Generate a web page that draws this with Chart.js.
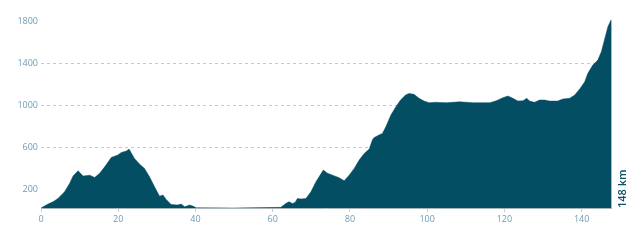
<!DOCTYPE html>
<html>
<head>
<meta charset="utf-8">
<script src="https://cdn.jsdelivr.net/npm/chart.js@4/dist/chart.umd.min.js"></script>
<style>
  html, body { margin: 0; padding: 0; background: #ffffff; }
  #wrap { width: 640px; height: 240px; position: relative; }
</style>
</head>
<body>
<div id="wrap"><canvas id="profile"></canvas></div>
<script>
// Distance along the route (km) and elevation (m)
const distanceKm = [0, 1.8, 3.1, 4.4, 6.1, 7.4, 8.3, 9.6, 10.9, 12.6, 13.9, 15.2, 16.5, 18.2, 19.9, 20.8, 22.1, 22.8, 24.2, 25.5,
  26.8, 28.1, 29.4, 30.7, 31.6, 32.4, 33.7, 35.4, 36.3, 37.2, 38.5, 39.3, 40.2, 50, 62.1, 63.4, 64.2, 65.1, 65.8, 66.4,
  67.3, 68.6, 69.9, 71.2, 73.1, 74.2, 75.5, 77.2, 78.5, 79.8, 81.1, 82.4, 83.7, 85.0, 85.8, 86.2, 87.5, 88.4, 89.3, 90.6,
  91.9, 93.1, 94.4, 95.3, 96.6, 97.9, 99.2, 100.5, 102.2, 105, 108.4, 111.9, 116.2, 117.9, 119.6, 120.9, 122.2, 123.5, 124.8, 125.8,
  126.5, 127.8, 129.1, 130.4, 131.7, 133.8, 135.1, 136.9, 138.2, 139.5, 140.8, 141.6, 142.9, 144.2, 145.1, 145.9, 146.8, 147.6];
const elevationM = [20, 57, 79, 111, 174, 254, 324, 374, 324, 333, 311, 350, 412, 502, 524, 549, 562, 581, 492, 438,
  397, 317, 222, 133, 143, 102, 54, 48, 57, 31, 48, 38, 22, 20, 26, 64, 79, 64, 73, 111,
  105, 111, 174, 270, 381, 350, 333, 308, 279, 333, 397, 476, 540, 581, 667, 689, 714, 730, 793, 905,
  984, 1048, 1095, 1111, 1102, 1064, 1038, 1022, 1026, 1022, 1031, 1022, 1022, 1041, 1070, 1086, 1064, 1038, 1041, 1064,
  1038, 1026, 1048, 1048, 1038, 1038, 1057, 1064, 1095, 1152, 1222, 1302, 1381, 1429, 1508, 1619, 1746, 1810];

const xTickValues = [0, 20, 40, 60, 80, 100, 120, 140];
const yTickValues = [200, 600, 1000, 1400, 1800];
const dashedGridValues = [600, 1000, 1400];
const totalLabel = '148 km';

const fillColor = '#034e63';
const tickColor = '#6b9db4';

// Total distance written vertically beside the end of the profile,
// plus a thin edge line at the finish.
const finishMarks = {
  id: 'finishMarks',
  afterDatasetsDraw(chart) {
    const { ctx, chartArea } = chart;
    const xEnd = chart.scales.x.getPixelForValue(distanceKm[distanceKm.length - 1]);
    ctx.save();
    ctx.strokeStyle = '#a9b4b8';
    ctx.lineWidth = 1;
    ctx.beginPath();
    ctx.moveTo(Math.round(xEnd) + 0.5, chartArea.top);
    ctx.lineTo(Math.round(xEnd) + 0.5, chartArea.bottom);
    ctx.stroke();
    ctx.restore();
  },
  afterDraw(chart) {
    const { ctx, chartArea } = chart;
    ctx.save();
    ctx.translate(chartArea.right + 12, chartArea.bottom);
    ctx.rotate(-Math.PI / 2);
    ctx.fillStyle = '#0d4f66';
    ctx.font = '600 11px "Open Sans"';
    ctx.textAlign = 'left';
    ctx.textBaseline = 'middle';
    ctx.fillText(totalLabel, 0, 0);
    ctx.restore();
  }
};

new Chart(document.getElementById('profile'), {
  type: 'line',
  data: {
    datasets: [{
      data: distanceKm.map((d, i) => ({ x: d, y: elevationM[i] })),
      fill: 'start',
      backgroundColor: fillColor,
      borderColor: fillColor,
      borderWidth: 0.5,
      pointRadius: 0,
      tension: 0
    }]
  },
  options: {
    responsive: true,
    maintainAspectRatio: false,
    animation: false,
    layout: { padding: { top: 20, right: 29, bottom: 0, left: 0 } },
    plugins: { legend: { display: false }, tooltip: { enabled: false } },
    scales: {
      x: {
        type: 'linear',
        min: 0,
        max: distanceKm[distanceKm.length - 1],
        afterBuildTicks(axis) { axis.ticks = xTickValues.map(v => ({ value: v })); },
        afterFit(axis) { axis.height = 32; },
        grid: { drawOnChartArea: false, drawTicks: true, tickLength: 4, color: '#c9cfd1' },
        border: { display: true, color: '#a9b4b8', width: 1 },
        ticks: {
          color: tickColor, font: { family: 'Open Sans', size: 9 }, padding: 2, maxRotation: 0,
          callback: v => String(v)
        }
      },
      y: {
        type: 'linear',
        min: 20,
        max: 1810,
        afterBuildTicks(axis) { axis.ticks = yTickValues.map(v => ({ value: v })); },
        afterFit(axis) { axis.width = 41; },
        grid: {
          drawTicks: false,
          color: ctx => dashedGridValues.includes(ctx.tick && ctx.tick.value) ? '#c8c8c8' : 'rgba(0,0,0,0)',
          lineWidth: 1
        },
        border: { display: false, dash: [3, 3] },
        ticks: {
          color: tickColor, font: { family: 'Open Sans', size: 9 }, padding: 3,
          callback: v => String(v)
        }
      }
    }
  },
  plugins: [finishMarks]
});
</script>
</body>
</html>
